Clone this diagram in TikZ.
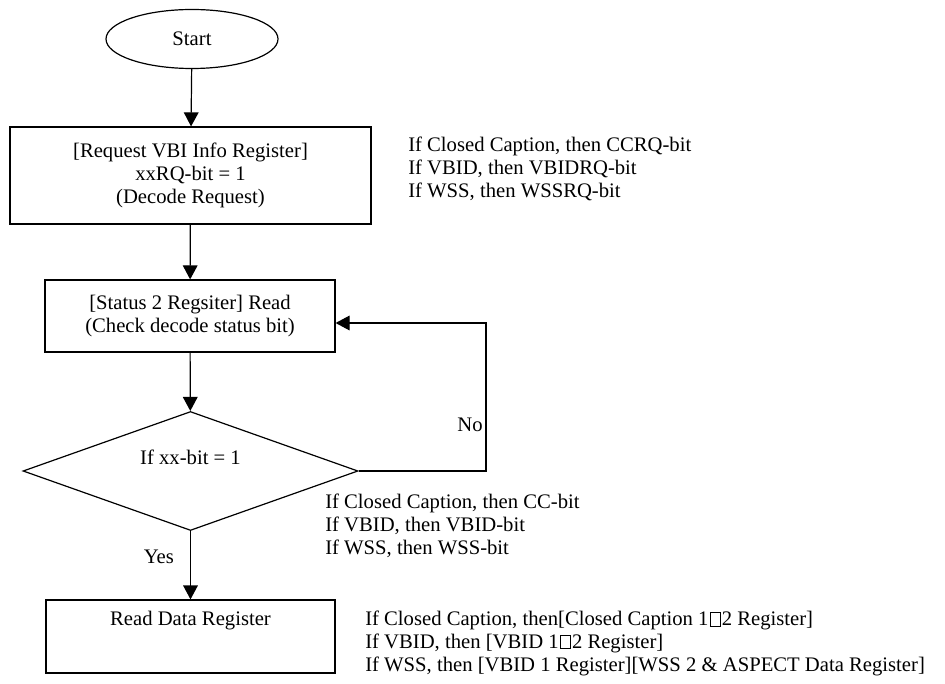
\documentclass[tikz,border=0pt]{standalone}
\usepackage{fontspec}
\setmainfont{Liberation Serif}
\usetikzlibrary{shapes.geometric,arrows.meta,positioning}
\newcommand\gapbox{{\setlength\fboxsep{0pt}\setlength\fboxrule{0.5pt}\kern1pt\fbox{\rule{0pt}{0.62em}\kern0.45em}\kern1pt}}
\tikzset{
    flow box/.style={
        draw,line width=0.9pt,
        inner sep=0,align=center
    },
    start node/.style={
        draw,line width=0.9pt,ellipse,
        inner sep=0,
        minimum width=129pt,minimum height=44.25pt
    },
    decision/.style={
        draw,line width=0.9pt,diamond,
        inner sep=0,aspect=2.8,
        minimum width=251.25pt,minimum height=89.25pt
    },
    note text/.style={
        inner sep=0,align=left,anchor=north west
    },
    flow/.style={->,line width=0.9pt},
    >={Triangle[length=10.5pt,width=11pt]}
}
\begin{document}
\begin{tikzpicture}[x=0.75pt,y=-0.75pt,font=\fontsize{15.5}{17}\selectfont]
\useasboundingbox (0,0) rectangle (945,684);
% flow chart
\node[start node] (start) at (192,39) {Start};
\node[flow box,minimum width=270.75pt,minimum height=72.75pt] (request) at (190.5,175.5)
    {[Request VBI Info Register]\\xxRQ-bit = 1\\(Decode Request)};
\node[flow box,minimum width=217.5pt,minimum height=54pt] (status) at (190,316)
    {[Status 2 Regsiter] Read\\(Check decode status bit)};
\node[decision,label={[yshift=10.5pt]center:If xx-bit = 1}] (check) at (190.5,471) {};
\node[flow box,minimum width=216.75pt,minimum height=54.75pt,
    label={[anchor=north,yshift=-5pt]north:Read Data Register}] (readdata) at (190.5,636.5) {};
\coordinate (loop) at (486,323);
\draw[flow] (start) -- (request);
\draw[flow] (request) -- (status);
\draw[flow] (status) -- (check);
\draw[flow] (check) -- node[pos=0.38,left=12pt,inner sep=0] (yes) {Yes} (readdata);
\draw[flow] (check.east) -| (loop) -- (loop -| status.east);
\node (no) at (470,425) {No};
% notes
\node[note text] (reqnotes) at (408,137)
    {If Closed Caption, then CCRQ-bit\\If VBID, then VBIDRQ-bit\\If WSS, then WSSRQ-bit};
\node[note text] (bitnotes) at (325,494)
    {If Closed Caption, then CC-bit\\If VBID, then VBID-bit\\If WSS, then WSS-bit};
\node[note text] (datanotes) at (365,611)
    {If Closed Caption, then[Closed Caption 1\gapbox2 Register]\\If VBID, then [VBID 1\gapbox2 Register]\\If WSS, then [VBID 1 Register][WSS 2 \& ASPECT Data Register]};
\end{tikzpicture}
\end{document}
